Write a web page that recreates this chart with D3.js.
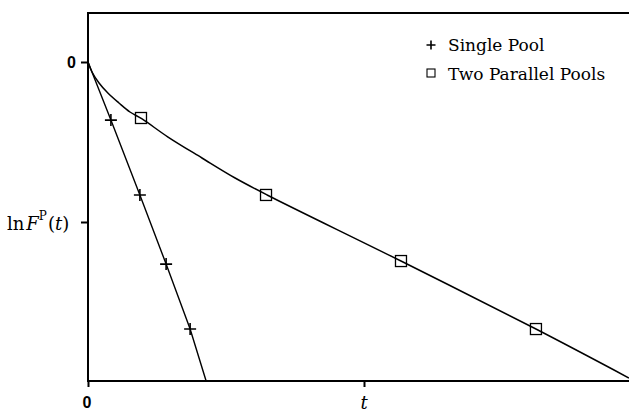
<!DOCTYPE html>
<html>
<head>
<meta charset="utf-8">
<script src="https://cdn.jsdelivr.net/npm/d3@7"></script>
<style>
  body { margin: 0; background: #fff; }
  svg { display: block; }
  .serif { font-family: 'DejaVu Serif', 'Liberation Serif', 'Times New Roman', serif; font-size: 18px; }
  .legend { font-size: 17px; }
  .sans { font-family: 'Liberation Sans', 'DejaVu Sans', sans-serif; font-size: 16px; font-weight: bold; }
</style>
</head>
<body>
<svg></svg>
<script>
// values (t in units of the "t" tick, y in units of the lower y tick)
const singleLine = [[0, 0], [0.083, -0.363], [0.188, -0.831], [0.283, -1.263], [0.370, -1.669], [0.428, -1.994]]
const singleMarks = [[0.083, -0.363], [0.188, -0.831], [0.283, -1.263], [0.370, -1.669]]
const twoLine = [[0, 0], [0.0145, -0.0625], [0.040, -0.131], [0.072, -0.194], [0.112, -0.256], [0.152, -0.3125],
  [0.196, -0.356], [0.290, -0.469], [0.413, -0.600], [0.533, -0.725], [0.649, -0.831], [1.134, -1.244],
  [1.623, -1.669], [1.960, -1.975]]
const twoMarks = [[0.192, -0.35], [0.645, -0.831], [1.134, -1.244], [1.623, -1.669]]
const xTicks = [0, 1]
const yTicks = [0, -1]
const legendNames = ['Single Pool', 'Two Parallel Pools']

let w = 629, h = 412

let svg = d3.select('svg')
  .attr('width', w)
  .attr('height', h)

let scX = d3.scaleLinear().domain([0, 1]).range([88, 364])
let scY = d3.scaleLinear().domain([0, -1]).range([62, 222])

let pL = scX(0), pR = scX(2), pT = 13, pB = 381

// frame
svg.append('rect')
  .attr('x', pL).attr('y', pT)
  .attr('width', pR - pL).attr('height', pB - pT)
  .attr('fill', 'none').attr('stroke', '#000').attr('stroke-width', 2)

let yAx = d3.axisLeft(scY).tickValues(yTicks).tickSize(7).tickFormat('')
let gy = svg.append('g').attr('transform', `translate(${pL},0)`).call(yAx)
gy.select('.domain').remove()
gy.selectAll('line').attr('stroke-width', 2)

let xAx = d3.axisBottom(scX).tickValues(xTicks).tickSize(6).tickFormat('')
let gx = svg.append('g').attr('transform', `translate(0,${pB})`).call(xAx)
gx.select('.domain').remove()
gx.selectAll('line').attr('stroke-width', 2)

// tick labels
svg.append('text')
  .attr('class', 'sans')
  .attr('x', pL - 12).attr('y', scY(0) + 6)
  .attr('text-anchor', 'end')
  .text('0')

svg.append('text')
  .attr('class', 'sans')
  .attr('x', scX(0) - 1).attr('y', 408)
  .attr('text-anchor', 'middle')
  .text('0')

svg.append('text')
  .attr('class', 'serif')
  .attr('x', scX(1)).attr('y', 409)
  .attr('text-anchor', 'middle')
  .attr('font-style', 'italic')
  .text('t')

let yl = svg.append('text')
  .attr('class', 'serif')
  .attr('x', 7).attr('y', scY(-1) + 8)
yl.append('tspan').text('ln')
yl.append('tspan').attr('dx', 2).attr('font-style', 'italic').text('F')
yl.append('tspan').attr('dy', -10).attr('font-size', 12).text('P')
yl.append('tspan').attr('dy', 10).attr('dx', 1).text('(')
yl.append('tspan').attr('font-style', 'italic').text('t')
yl.append('tspan').text(')')

// lines
let line = d3.line().x(d => scX(d[0])).y(d => scY(d[1]))

svg.append('path')
  .datum(singleLine)
  .attr('d', line)
  .attr('fill', 'none').attr('stroke', '#000').attr('stroke-width', 1.4)

svg.append('path')
  .datum(twoLine)
  .attr('d', line.curve(d3.curveCatmullRom.alpha(0.5)))
  .attr('fill', 'none').attr('stroke', '#000').attr('stroke-width', 1.5)

// markers
const plus = s => `M${-s},0H${s}M0,${-s}V${s}`

svg.append('g')
  .selectAll('path')
  .data(singleMarks).enter().append('path')
  .attr('transform', d => `translate(${scX(d[0])},${scY(d[1])})`)
  .attr('d', plus(6))
  .attr('stroke', '#000').attr('stroke-width', 1.6)

svg.append('g')
  .selectAll('rect')
  .data(twoMarks).enter().append('rect')
  .attr('x', d => scX(d[0]) - 5.5).attr('y', d => scY(d[1]) - 5.5)
  .attr('width', 11).attr('height', 11)
  .attr('fill', 'none').attr('stroke', '#000').attr('stroke-width', 1.3)

// legend
let lg = svg.append('g')
lg.append('path')
  .attr('d', plus(4.5))
  .attr('transform', 'translate(431,45)')
  .attr('stroke', '#000').attr('stroke-width', 1.6)
lg.append('rect')
  .attr('x', 427).attr('y', 69).attr('width', 8).attr('height', 8)
  .attr('fill', 'none').attr('stroke', '#000').attr('stroke-width', 1.1)
lg.selectAll('text')
  .data(legendNames).enter().append('text')
  .attr('class', 'serif legend')
  .attr('x', 448).attr('y', (d, i) => 51 + i * 29)
  .text(d => d)
</script>
</body>
</html>
